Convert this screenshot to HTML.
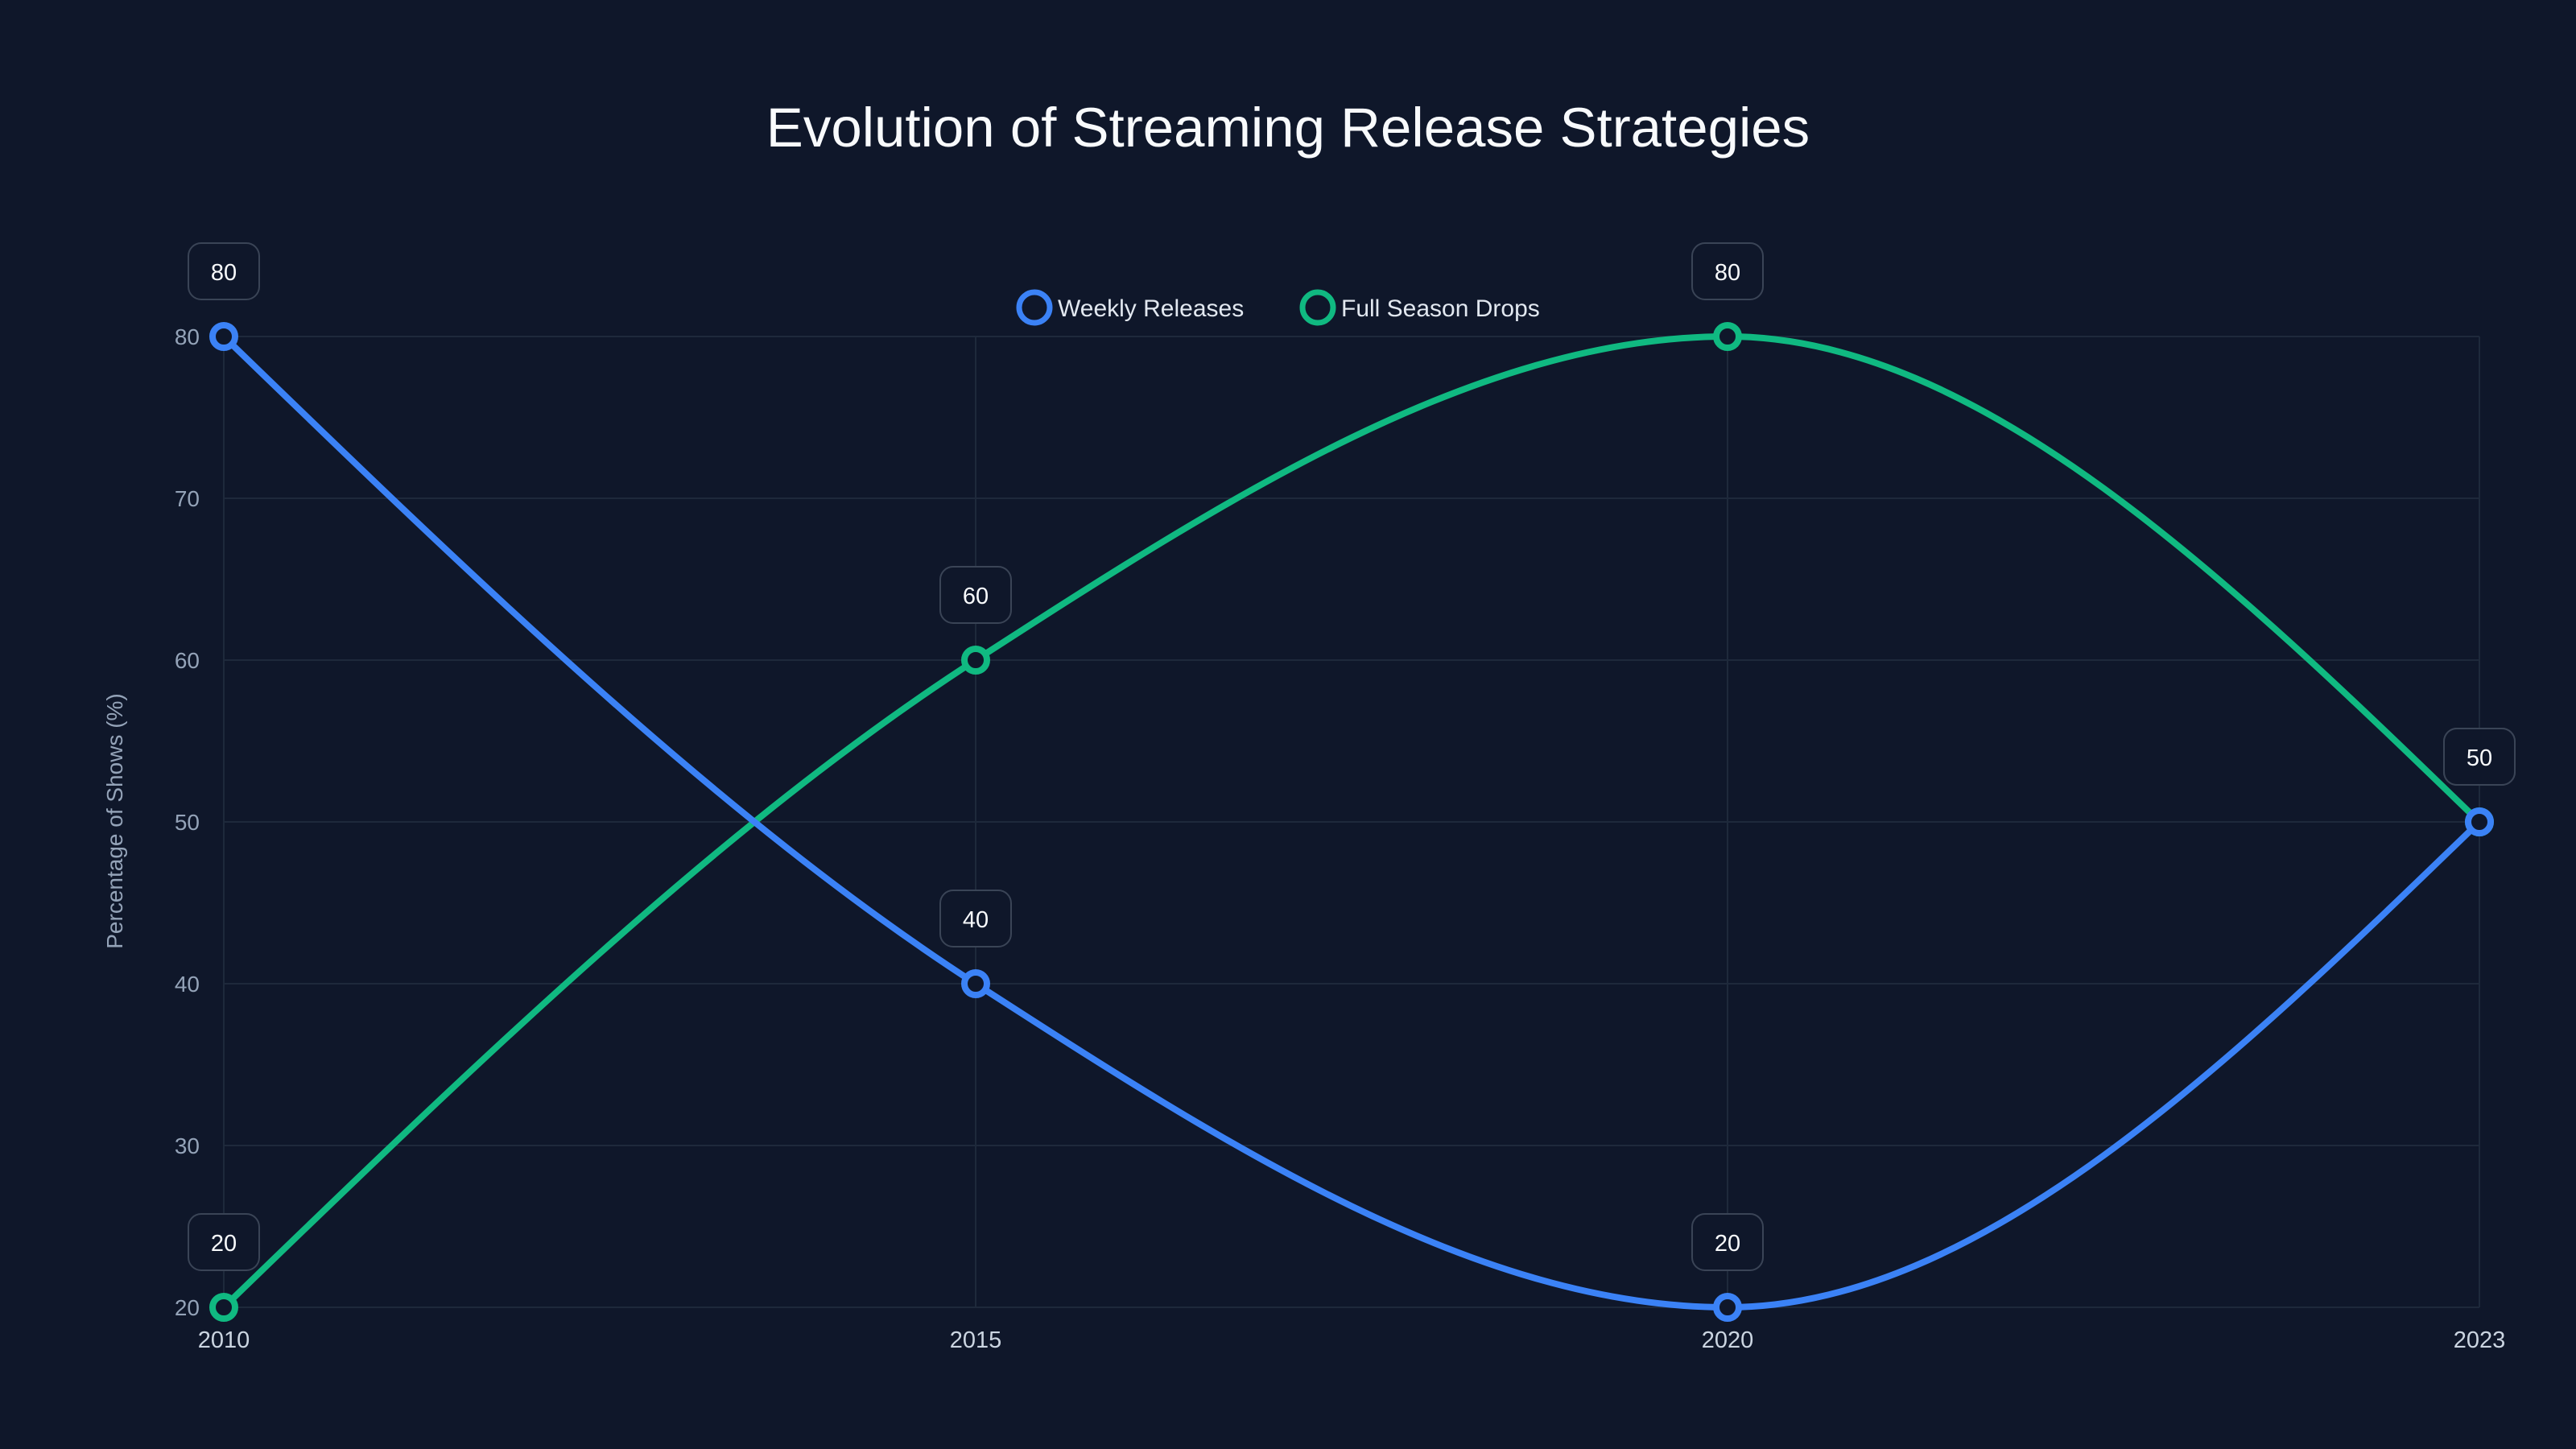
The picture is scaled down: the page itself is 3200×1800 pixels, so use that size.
<!DOCTYPE html>
<html><head><meta charset="utf-8"><style>
html,body{margin:0;padding:0;background:#0f172a;}
svg{display:block;font-family:"Liberation Sans",sans-serif;}
</style></head><body>
<svg id="chart" width="3200" height="1800" viewBox="0 0 3200 1800">
<rect width="3200" height="1800" fill="#0f172a"/>
<text x="1600" y="182" text-anchor="middle" font-size="69" fill="#f8fafc">Evolution of Streaming Release Strategies</text>
<g>
<g><circle cx="1285" cy="382" r="19" fill="none" stroke="#3b82f6" stroke-width="7"/><text x="1314" y="393" font-size="30" fill="#e2e8f0">Weekly Releases</text></g>
<g><circle cx="1637" cy="382" r="19" fill="none" stroke="#10b981" stroke-width="7"/><text x="1666" y="393" font-size="30" fill="#e2e8f0">Full Season Drops</text></g>
</g>
<text transform="translate(152,1020) rotate(-90)" text-anchor="middle" font-size="28" fill="#94a3b8">Percentage of Shows (%)</text>
<g id="grid"></g><g id="axes"></g><g id="series"></g><g id="labels"></g>
</svg>
<script>
const categories = ["2010","2015","2020","2023"];
const weekly = [80,40,20,50];
const fullSeason = [20,60,80,50];
const yTicks = [20,30,40,50,60,70,80];
const seriesNames = ["Weekly Releases","Full Season Drops"];

const NS="http://www.w3.org/2000/svg";
const L=278,R=3080,T=418,B=1624,yMin=20,yMax=80;
const xs=i=>L+(R-L)*i/(categories.length-1);
const ys=v=>B-(v-yMin)/(yMax-yMin)*(B-T);
function mk(tag,attrs,parent){const e=document.createElementNS(NS,tag);for(const k in attrs)e.setAttribute(k,attrs[k]);parent.appendChild(e);return e;}
const grid=document.getElementById('grid'),axes=document.getElementById('axes'),series=document.getElementById('series'),labels=document.getElementById('labels');
yTicks.forEach(v=>{
  const l=mk('line',{x1:L,x2:R,y1:ys(v),y2:ys(v),stroke:'#1e293b','stroke-width':2},grid);
  
  
  const t=mk('text',{x:L-30,y:ys(v)+10,'text-anchor':'end','font-size':28,fill:'#94a3b8'},axes);
  t.textContent=v;
  
  
});
categories.forEach((c,i)=>{
  const l=mk('line',{x1:xs(i),x2:xs(i),y1:T,y2:B,stroke:'#1e293b','stroke-width':2},grid);
  
  
  const t=mk('text',{x:xs(i),y:B+50,'text-anchor':'middle','font-size':29,fill:'#cbd5e1'},axes);
  t.textContent=c;
  
  
});
function monotonePath(px,py){
  const n=px.length,d=[],m=[];
  for(let i=0;i<n-1;i++)d.push((py[i+1]-py[i])/(px[i+1]-px[i]));
  for(let i=0;i<n;i++){
    if(i===0||i===n-1)continue;
    const h0=px[i]-px[i-1],h1=px[i+1]-px[i];
    const s0=d[i-1],s1=d[i];
    const p=(s0*h1+s1*h0)/(h0+h1);
    m[i]=(Math.sign(s0)+Math.sign(s1))*Math.min(Math.abs(s0),Math.abs(s1),0.5*Math.abs(p))||0;
  }
  m[0]=(3*d[0]-m[1])/2; m[n-1]=(3*d[n-2]-m[n-2])/2;
  let s=`M${px[0]},${py[0]}`;
  for(let i=0;i<n-1;i++){const h=(px[i+1]-px[i])/3;
    s+=` C${px[i]+h},${py[i]+h*m[i]} ${px[i+1]-h},${py[i+1]-h*m[i+1]} ${px[i+1]},${py[i+1]}`;}
  return s;
}
function draw(vals,color,name){
  const px=vals.map((v,i)=>xs(i)),py=vals.map(ys);
  const p=mk('path',{d:monotonePath(px,py),fill:'none',stroke:color,'stroke-width':8},series);
  
  
  vals.forEach((v,i)=>{
    const c=mk('circle',{cx:px[i],cy:py[i],r:14,fill:'#0f172a',stroke:color,'stroke-width':8},series);
    
    
    const g=mk('g',{},labels);
    
    
    mk('rect',{x:px[i]-44,y:py[i]-116,width:88,height:70,rx:16,fill:'#0f172a',stroke:'#3a4456','stroke-width':2},g);
    const t=mk('text',{x:px[i],y:py[i]-70,'text-anchor':'middle','font-size':29,fill:'#f8fafc'},g);
    t.textContent=v;
  });
}
draw(fullSeason,'#10b981','full-season');
draw(weekly,'#3b82f6','weekly');
</script>
</body></html>
